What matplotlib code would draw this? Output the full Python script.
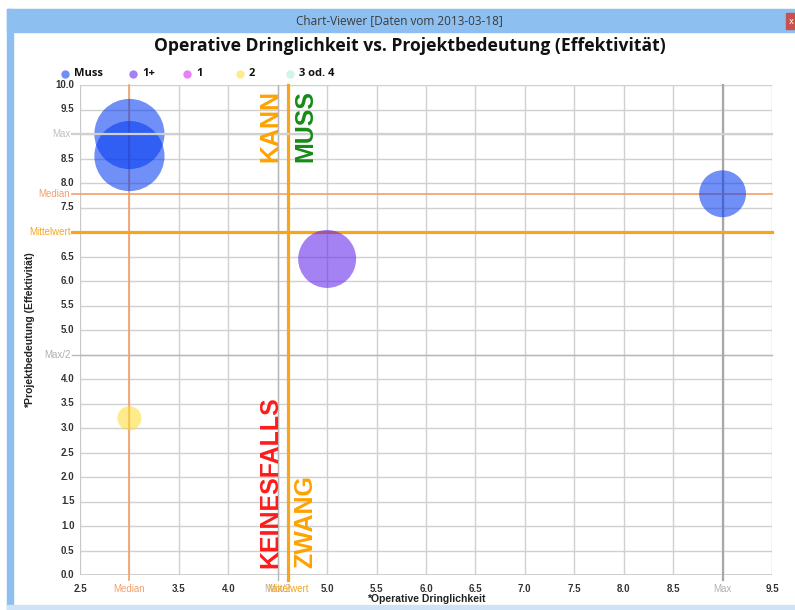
import numpy as np
import matplotlib
matplotlib.use('Agg')
import matplotlib.pyplot as plt
import matplotlib.transforms as mtransforms
from matplotlib.patches import Rectangle
from matplotlib.lines import Line2D

# ---------------- data ----------------
window_title = 'Chart-Viewer [Daten vom 2013-03-18]'
chart_title = 'Operative Dringlichkeit vs. Projektbedeutung (Effektivität)'
x_label = '*Operative Dringlichkeit'
y_label = '*Projektbedeutung (Effektivität)'

series_names = ['Muss', '1+', '1', '2', '3 od. 4']
series_colors = ['#0039f2', '#5f20ed', '#d020f0', '#ffdb32', '#a8f0dc']

point_series = ['Muss', 'Muss', 'Muss', '1+', '2']
dringlichkeit = [3.0, 3.0, 9.0, 5.0, 3.0]
bedeutung = [9.0, 8.55, 7.78, 6.45, 3.2]
gewicht = [8.5, 8.5, 3.8, 5.8, 1.0]

x_ticks = [2.5, 3.0, 3.5, 4.0, 4.5, 5.0, 5.5, 6.0, 6.5, 7.0, 7.5, 8.0, 8.5, 9.0, 9.5]
y_ticks = [0.0, 0.5, 1.0, 1.5, 2.0, 2.5, 3.0, 3.5, 4.0, 4.5, 5.0, 5.5, 6.0, 6.5,
           7.0, 7.5, 8.0, 8.5, 9.0, 9.5, 10.0]

quadrants = ['KANN', 'MUSS', 'KEINESFALLS', 'ZWANG']

# ---------------- figure ----------------
W, H = 795, 610
fig = plt.figure(figsize=(W / 100, H / 100), dpi=100)
fig.patch.set_facecolor('white')

def px_rect(x0, y0, x1, y1, color):
    fig.patches.append(Rectangle((x0 / W, 1 - y1 / H), (x1 - x0) / W, (y1 - y0) / H,
                                 transform=fig.transFigure, color=color, zorder=-5))

# window frame
frame_col = '#8dc0f0'
px_rect(7, 9, W, 32, frame_col)        # title bar
px_rect(7, 9, 13, H, frame_col)        # left border
px_rect(7, 605, W, H, '#cfe3f7')       # bottom border
px_rect(786, 13, W, 29, '#c9504f')     # close button
fig.text(791 / W, 1 - 21 / H, 'x', color='white', fontsize=6, ha='center', va='center')
fig.text(399 / W, 1 - 20.5 / H, window_title, fontsize=8.5, color='#3a3a3a',
         ha='center', va='center', family='Open Sans')

# chart title
fig.text(410 / W, 1 - 46 / H, chart_title, fontsize=12.6, fontweight='bold',
         ha='center', va='center', family='Open Sans', color='#111111')

ax = fig.add_axes([80 / W, 35 / H, 692 / W, 490 / H])
ax.set_xlim(2.5, 9.5)
ax.set_ylim(0, 10)

# grid
for xv in x_ticks:
    ax.axvline(xv, color='#d0d0d0', lw=1, zorder=0)
for yv in y_ticks:
    ax.axhline(yv, color='#d0d0d0', lw=1, zorder=0)
for s in ax.spines.values():
    s.set_visible(False)
ax.axvline(2.5, color='#c8c8c8', lw=1.2, zorder=0)
ax.axhline(0, color='#c8c8c8', lw=1.2, zorder=0)

# statistics from data
xs = np.array(dringlichkeit)
ys = np.array(bedeutung)
x_med, y_med = np.median(xs), np.median(ys)
x_mean, y_mean = xs.mean(), ys.mean()
x_max, y_max = xs.max(), ys.max()

col_med = '#f2a06a'
col_mean = '#f7a51c'
col_max = '#a8a8a8'
col_half = '#b8b8b8'

ax.axvline(x_max / 2, ymin=-0.01, color=col_half, lw=1, zorder=1, clip_on=False)
ax.axhline(y_max / 2, xmin=-0.012, color=col_half, lw=1, zorder=1, clip_on=False)
ax.axvline(x_max, ymin=-0.01, color=col_max, lw=1.6, zorder=1, clip_on=False)
ax.axhline(y_max, xmin=-0.012, color='#d0d0d0', lw=1.6, zorder=3, clip_on=False)
ax.axvline(x_med, ymin=-0.01, color=col_med, lw=1.2, zorder=1, clip_on=False)
ax.axhline(y_med, xmin=-0.012, color=col_med, lw=1.2, zorder=1, clip_on=False)
ax.axvline(x_mean, ymin=-0.01, color=col_mean, lw=2.3, zorder=1, clip_on=False)
ax.axhline(y_mean, xmin=-0.012, color=col_mean, lw=2.3, zorder=1, clip_on=False)

# bubbles
k = 300
for nm, c in zip(series_names, series_colors):
    idx = [i for i, p in enumerate(point_series) if p == nm]
    if not idx:
        continue
    ax.scatter([dringlichkeit[i] for i in idx], [bedeutung[i] for i in idx],
               s=[gewicht[i] * k for i in idx], color=c, alpha=0.56,
               edgecolors='none', zorder=2)

# tick labels
ax.set_xticks([]); ax.set_yticks([])
tick_font = dict(family='Liberation Sans', fontsize=7, fontweight='bold', color='#333333')
bx = mtransforms.blended_transform_factory(ax.transData, ax.transAxes)
by = mtransforms.blended_transform_factory(ax.transAxes, ax.transData)

x_special = [(x_med, 'Median', col_med), (x_max / 2, 'Max/2', '#b0b0b0'),
             (x_mean, 'Mittelwert', col_mean), (x_max, 'Max', '#b0b0b0')]
y_special = [(y_med, 'Median', col_med), (y_max / 2, 'Max/2', '#b0b0b0'),
             (y_mean, 'Mittelwert', col_mean), (y_max, 'Max', '#c0c0c0')]

for xv in x_ticks:
    if any(abs(xv - s[0]) < 0.06 for s in x_special):
        continue
    ax.text(xv, -0.018, f'{xv:.1f}', transform=bx, ha='center', va='top', **tick_font)
for xv, lab, c in x_special:
    ax.text(xv, -0.018, lab, transform=bx, ha='center', va='top',
            family='Liberation Sans', fontsize=7, color=c)
for yv in y_ticks:
    if any(abs(yv - s[0]) < 0.06 for s in y_special):
        continue
    ax.text(-0.008, yv, f'{yv:.1f}', transform=by, ha='right', va='center', **tick_font)
for yv, lab, c in y_special:
    ax.text(-0.014, yv, lab, transform=by, ha='right', va='center',
            family='Liberation Sans', fontsize=7, color=c)

ax.text(0.5, -0.038, x_label, transform=ax.transAxes, ha='center', va='top',
        family='Liberation Sans', fontsize=7.5, fontweight='bold', color='#222222')
ax.text(-0.072, 0.5, y_label, transform=ax.transAxes, ha='center', va='center',
        rotation=90, family='Liberation Sans', fontsize=7.5, fontweight='bold', color='#222222')

# quadrant labels
q_font = dict(family='Liberation Sans', fontsize=18, fontweight='bold', rotation=90,
              textcoords='offset points', ha='center')
ax.annotate(quadrants[0], xy=(x_mean, 10), xytext=(-12.5, -3.5), va='top', color='#ffa200', **q_font)
ax.annotate(quadrants[1], xy=(x_mean, 10), xytext=(12.5, -3.5), va='top', color='#178a17', **q_font)
ax.annotate(quadrants[2], xy=(x_mean, 0), xytext=(-12.5, 5), va='bottom', color='#ff1a1a', **q_font)
ax.annotate(quadrants[3], xy=(x_mean, 0), xytext=(12.5, 5), va='bottom', color='#ffa200', **q_font)

# legend (manual placement along the top)
leg_x = [65, 133, 187, 240, 290]
leg_y = 74
for lx, nm, c in zip(leg_x, series_names, series_colors):
    fig.lines.append(Line2D([lx / W], [1 - leg_y / H], marker='o', ls='none', markersize=6,
                            color=c, alpha=0.56, markeredgewidth=0, transform=fig.transFigure))
    fig.text((lx + 9) / W, 1 - leg_y / H, nm, ha='left', va='center', family='Open Sans',
             fontsize=8, fontweight='bold', color='#111111')

fig.savefig('out.png', dpi=100)
